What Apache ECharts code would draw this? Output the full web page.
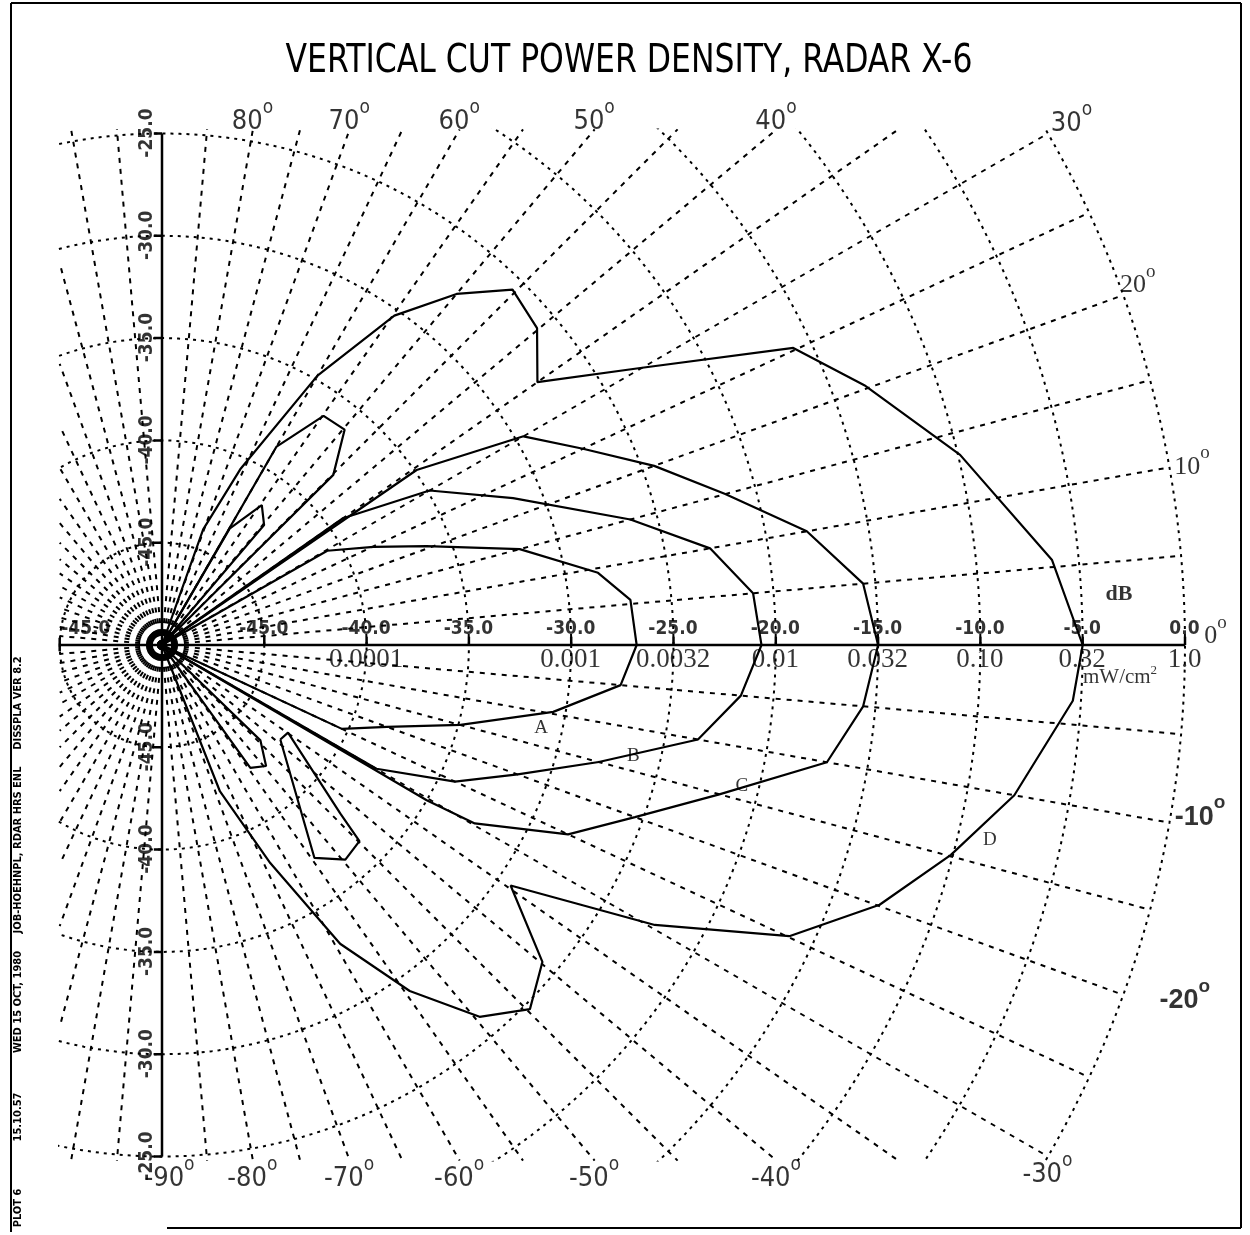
<!DOCTYPE html>
<html>
<head>
<meta charset="utf-8">
<title>Vertical cut power density, radar X-6</title>
<script src="https://cdn.jsdelivr.net/npm/echarts@6/dist/echarts.min.js"></script>
<style>
  html, body { margin: 0; padding: 0; background: #fff; }
  #chart { width: 1250px; height: 1235px; }
</style>
</head>
<body>
<div id="chart"></div>
<script>
// ---------------------------------------------------------------
// Contour data: each point is [elevation angle (deg), level (dB)]
// A level of -50 dB lies on the pole of the plot.
// ---------------------------------------------------------------
const contourA = [[30,-50],[29.7,-40.7],[24.9,-38.6],[20.5,-36.2],[15,-31.9],[9.4,-28.4],[5.5,-27.0],[0,-26.8],[-5,-27.5],[-9.7,-30.6],[-15,-34.9],[-20,-38.3],[-25,-40.3],[-25,-50]];
const contourB = [[35,-50],[35,-39.2],[30,-34.9],[22.7,-31.4],[15,-26.3],[10,-22.8],[5,-21.0],[0,-20.7],[-5,-21.6],[-10,-23.4],[-15,-27.9],[-20,-31.5],[-25,-34.2],[-30,-37.9],[-30,-50]];
const contourC = [[35,-50],[34.5,-34.9],[30,-29.6],[25,-27.3],[20,-24.4],[15,-21.5],[10,-18.0],[5,-15.6],[0,-15.0],[-5,-15.6],[-10,-17.0],[-15,-21.8],[-20,-25.4],[-25,-28.1],[-29.7,-32.4],[-30.4,-35.0],[-30,-50]];
const contourD = [[70,-50],[70.4,-44.0],[66,-40.6],[60,-34.8],[54.8,-30.3],[50,-27.6],[45.4,-25.6],[40.2,-26.0],[35,-27.6],[30,-22.9],[25.2,-15.9],[20.3,-13.4],[13.4,-9.9],[5.45,-6.3],[0,-5.0],[-3.5,-5.4],[-10,-7.7],[-14.9,-10.1],[-19.9,-12.7],[-24.9,-16.2],[-29.6,-22.3],[-34.6,-29.3],[-39.8,-25.8],[-44.7,-24.7],[-49.5,-26.1],[-54.4,-29.2],[-59.2,-33.0],[-63.6,-38.1],[-68.4,-42.3],[-70,-50]];
// side lobes
const lobeUpperInner = [[60,-50],[59.8,-43.4],[54.5,-41.6],[49.6,-42.3],[50,-50]];
const lobeUpperOuter = [[60,-50],[60,-38.8],[54.8,-36.3],[49.7,-36.2],[44.8,-38.2],[45,-50]];
const lobeLowerInner = [[-45,-50],[-44.1,-43.3],[-49.3,-42.2],[-54.3,-42.6],[-55,-50]];
const lobeLowerOuter = [[-38.6,-42.6],[-34.8,-42.5],[-43.4,-38.0],[-44.8,-36.4],[-49.5,-36.2],[-54.4,-37.2],[-38.6,-42.6]];

// contour letters: [name, angle (deg), level (dB)]
const contourNames = [['A',-12.4,-31.0],['B',-13.3,-26.3],['C',-13.7,-20.8],['D',-13.3,-8.4]];

// axes and tick labels
const dbTicks = [-45,-40,-35,-30,-25,-20,-15,-10,-5,0];
const verticalTicks = [-45,-40,-35,-30,-25];
const densityLabels = ['0.0001','0.001','0.0032','0.01','0.032','0.10','0.32','1.0'];
const densityDb = [-40,-30,-25,-20,-15,-10,-5,0];
const topAngles = [80,70,60,50,40,30];
const bottomAngles = [-90,-80,-70,-60,-50,-40,-30];
const sideAngles = [20,10,0,-10,-20];

const plotTitle = 'VERTICAL CUT POWER DENSITY, RADAR X-6';
const plotStamp = ['PLOT 6','15.10.57','WED 15 OCT, 1980','JOB-HOEHNPL, RDAR HRS ENL','DISSPLA VER 8.2'];

// ---------------------------------------------------------------
// geometry helpers
// ---------------------------------------------------------------
const FLOOR = -50;             // level at the pole
const SPAN = 50;               // 0 dB ring radius in level units
const VIEW = { left: -5, right: 50.25, half: 25.2 };
const PX = 20.46;              // pixels per dB
const POLE = { x: 162, y: 645 };
const D2R = Math.PI / 180;

function polar(angle, r) { return [r * Math.cos(angle * D2R), r * Math.sin(angle * D2R)]; }
function toXY(p) { return polar(p[0], p[1] - FLOOR); }
// ray from the pole, stopped at the 0 dB ring or the frame of the plot
function rayEnd(angle) {
  const s = Math.abs(Math.sin(angle * D2R)), c = Math.cos(angle * D2R);
  let r = SPAN;
  if (s > 1e-9) r = Math.min(r, VIEW.half / s);
  if (c < -1e-9) r = Math.min(r, VIEW.left / c);
  return polar(angle, r);
}

const NARROW = "'Liberation Sans Narrow','DejaVu Sans Condensed','Liberation Sans',sans-serif";
const SERIF = "'Liberation Serif','DejaVu Serif',serif";
const SANS = "'Liberation Sans','DejaVu Sans',sans-serif";

const BREAK = ['-', '-'];

function line(points, style, z) {
  return { type: 'line', data: points, symbol: 'none', silent: true, clip: true,
           z: z || 2, lineStyle: Object.assign({ color: '#000' }, style), animation: false };
}

function labels(items, label, z) {
  return {
    type: 'scatter', symbolSize: 1, silent: true, clip: false, z: z || 10, animation: false,
    itemStyle: { color: 'rgba(0,0,0,0)' },
    data: items,
    label: Object.assign({ show: true, color: '#000', formatter: p => p.name }, label)
  };
}

const series = [];

// dotted rings every 5 dB
dbTicks.forEach(db => {
  const pts = [];
  for (let a = 0; a <= 360; a += 1) pts.push(toXY([a, db]));
  series.push(line(pts, { width: 2, type: [3, 5] }, 1));
});
// dashed spokes every 5 degrees
for (let a = 0; a < 360; a += 5) {
  series.push(line([[0, 0], rayEnd(a)], { width: 2, type: [5, 6] }, 1));
}
// little ring at the pole
{
  const pts = [];
  for (let a = 0; a <= 360; a += 10) pts.push(polar(a, 0.55));
  series.push(line(pts, { width: 4 }, 3));
}
// solid axes with ticks
series.push(line([[VIEW.left, 0], [SPAN, 0]], { width: 2.5 }, 4));
series.push(line([[0, -25], [0, 25]], { width: 2.5 }, 4));
{
  const t = [];
  dbTicks.forEach(db => { const x = db - FLOOR; t.push([x, 0], [x, 0.4], BREAK); });
  t.push([VIEW.left, -0.3], [VIEW.left, 0.35], BREAK);
  verticalTicks.forEach(db => {
    const y = db - FLOOR;
    t.push([0, y], [-0.4, y], BREAK, [0, -y], [-0.4, -y], BREAK);
  });
  series.push(line(t, { width: 2.5 }, 4));
}

// contours
[contourA, contourB, contourC, contourD,
 lobeUpperInner, lobeUpperOuter, lobeLowerInner, lobeLowerOuter].forEach(c => {
  series.push(line(c.map(toXY), { width: 2.2 }, 5));
});

// dB tick labels along the horizontal axis
series.push(labels(
  dbTicks.map(db => ({ value: [db - FLOOR, 0], name: db.toFixed(1) }))
    .concat([{ value: [VIEW.left, 0], name: (-45).toFixed(1), label: { align: 'left', position: [2, -15] } }]),
  { position: [0, -15], align: 'center', verticalAlign: 'middle',
    fontFamily: NARROW, fontWeight: 'bold', fontSize: 19 }));
// dB tick labels along the vertical axis
series.push(labels(
  verticalTicks.flatMap(db => [
    { value: [0, db - FLOOR], name: db.toFixed(1) },
    { value: [0, -(db - FLOOR)], name: db.toFixed(1) }
  ]),
  { position: [-14, 0], align: 'center', verticalAlign: 'middle', rotate: 90,
    fontFamily: NARROW, fontWeight: 'bold', fontSize: 19 }));
// power density scale
series.push(labels(
  densityLabels.map((t, i) => ({ value: [densityDb[i] - FLOOR, 0], name: t })),
  { position: [0, 15], align: 'center', verticalAlign: 'middle', fontFamily: SERIF, fontSize: 27 }));
series.push(labels(
  [{ value: [46.8, 2.45], name: 'dB' }],
  { position: [0, 0], align: 'center', verticalAlign: 'middle', fontFamily: SERIF, fontSize: 22, fontWeight: 'bold' }));
series.push(labels(
  [{ value: [46.85, -1.6], name: 'mW/cm' }],
  { position: [0, 0], align: 'center', verticalAlign: 'middle',
    formatter: p => '{t|' + p.name + '}{s|2}',
    rich: { t: { fontFamily: SERIF, fontSize: 21, lineHeight: 26, color: '#000' },
            s: { fontFamily: SERIF, fontSize: 13, verticalAlign: 'top', lineHeight: 14, color: '#000' } } }));

// contour letters
series.push(labels(
  contourNames.map(n => ({ value: toXY([n[1], n[2]]), name: n[0] })),
  { position: [0, 0], align: 'center', verticalAlign: 'middle', fontFamily: SERIF, fontSize: 19 }));

// angle labels: number with a raised small "o" as the degree mark
const degRich = (font, size, weight) => ({
  n: { fontFamily: font, fontSize: size, fontWeight: weight || 'normal', lineHeight: size + 10,
       verticalAlign: 'bottom', color: '#000' },
  o: { fontFamily: font, fontSize: Math.round(size * 0.72), fontWeight: weight || 'normal',
       verticalAlign: 'top', lineHeight: Math.round(size * 0.6), color: '#000' }
});
const degFmt = p => '{n|' + p.name + '}{o|o}';

series.push(labels(
  topAngles.map(a => ({ value: rayEnd(a), name: String(a),
    label: a === 30 ? { position: [24, -14] } : undefined })),
  { position: [0, -12], align: 'center', verticalAlign: 'middle', formatter: degFmt, rich: degRich(NARROW, 27) }));
series.push(labels(
  bottomAngles.map(a => ({ value: rayEnd(a), name: String(a),
    label: a === -90 ? { position: [8, 14] } : undefined })),
  { position: [0, 14], align: 'center', verticalAlign: 'middle', formatter: degFmt, rich: degRich(NARROW, 27) }));

const sideOffsets = { '20': [15, -14], '10': [23, -5], '0': [31, -13], '-10': [31, -10], '-20': [62, 1] };
series.push(labels(
  sideAngles.map(a => ({ value: rayEnd(a), name: String(a),
    label: Object.assign({ position: sideOffsets[String(a)] },
      a < 0 ? { rich: degRich(SANS, 27, 'bold') } : {}) })),
  { align: 'center', verticalAlign: 'middle', formatter: degFmt, rich: degRich(SERIF, 26) }));

// ---------------------------------------------------------------
const frameLines = [[11, 3, 1241, 3], [11, 3, 11, 1232], [1241, 3, 1241, 1228], [167, 1228, 1241, 1228]];
const stampY = [1208, 1117, 1002, 850, 703];

const chart = echarts.init(document.getElementById('chart'));
chart.setOption({
  animation: false,
  backgroundColor: '#fff',
  grid: {
    left: POLE.x + VIEW.left * PX,
    top: POLE.y - VIEW.half * PX,
    width: (VIEW.right - VIEW.left) * PX,
    height: 2 * VIEW.half * PX
  },
  xAxis: { type: 'value', min: VIEW.left, max: VIEW.right, show: false },
  yAxis: { type: 'value', min: -VIEW.half, max: VIEW.half, show: false },
  series: series,
  graphic: frameLines.map(l => ({
    type: 'line', z: 20, silent: true,
    shape: { x1: l[0], y1: l[1], x2: l[2], y2: l[3] },
    style: { stroke: '#000', lineWidth: 2 }
  })).concat([
    { type: 'text', z: 20, silent: true, x: 629, y: 62, scaleY: 1.12,
      style: { text: plotTitle, font: '35px ' + NARROW, fill: '#000', align: 'center', verticalAlign: 'middle' } }
  ]).concat(plotStamp.map((t, i) => ({
    type: 'text', z: 20, silent: true, rotation: Math.PI / 2,
    x: 18, y: stampY[i],
    style: { text: t, font: "bold 11px 'DejaVu Sans Condensed','DejaVu Sans',sans-serif", fill: '#000',
             align: 'center', verticalAlign: 'middle' }
  })))
});
</script>
</body>
</html>
